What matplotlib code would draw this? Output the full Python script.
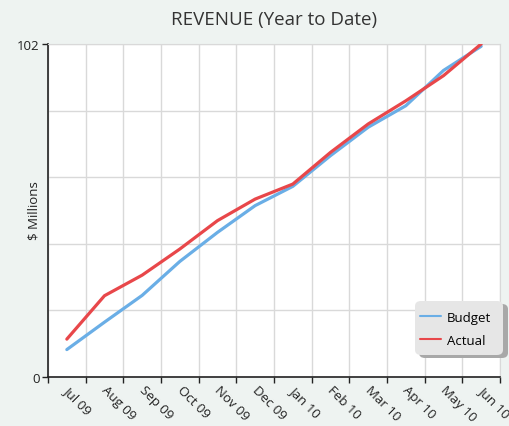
import matplotlib
matplotlib.use("Agg")
import matplotlib.pyplot as plt
from matplotlib.patches import FancyBboxPatch
import numpy as np

months = ["Jul 09", "Aug 09", "Sep 09", "Oct 09", "Nov 09", "Dec 09",
          "Jan 10", "Feb 10", "Mar 10", "Apr 10", "May 10", "Jun 10"]
budget = [8.4, 16.8, 25.0, 35.4, 44.3, 52.5, 58.4, 67.8, 76.5, 83.1, 93.9, 101.3]
actual = [11.6, 24.9, 31.2, 39.2, 47.9, 54.5, 59.1, 68.8, 77.5, 84.6, 92.3, 102.0]
y_max = 102

plt.rcParams['font.family'] = ['Open Sans', 'DejaVu Sans']

W, H = 509, 427
fig = plt.figure(figsize=(W / 100, H / 100), dpi=100)
bg = '#eef3f1'
fig.patch.set_facecolor(bg)
ax = fig.add_axes([48 / W, 1 - 378 / H, (500 - 48) / W, (378 - 45) / H])
ax.set_facecolor('white')

x = np.arange(len(months))
ax.plot(x, budget, color='#6aaee6', lw=2.3, label='Budget', solid_capstyle='round', zorder=3)
ax.plot(x, actual, color='#e8474a', lw=2.3, label='Actual', solid_capstyle='round', zorder=4)

ax.set_xlim(-0.5, len(months) - 0.5)
ax.set_ylim(0, y_max)

# x: labels at category centers, ticks/grid at boundaries
ax.set_xticks(x + 0.1)
ax.set_xticklabels(months, rotation=-45, ha='left', va='top', rotation_mode='anchor',
                   fontsize=9.5, color='#222222')
ax.tick_params(axis='x', which='major', length=0, pad=4)
ax.set_xticks(np.arange(-0.5, len(months), 1.0), minor=True)
ax.tick_params(axis='x', which='minor', length=4, width=1, color='#222222', direction='out')
ax.grid(True, axis='x', which='minor', color='#d9d9d9', lw=1)

# y
ax.set_yticks([0, y_max])
ax.set_yticklabels(['0', str(y_max)], fontsize=9.5, color='#222222')
ax.set_yticks(np.linspace(0, y_max, 6), minor=True)
ax.tick_params(axis='y', which='major', length=4, width=1, color='#222222', pad=2)
ax.tick_params(axis='y', which='minor', length=0)
ax.grid(True, axis='y', which='minor', color='#d9d9d9', lw=1)
ax.grid(True, axis='y', which='major', color='#d9d9d9', lw=1)
ax.set_axisbelow(True)

for s in ['top', 'right']:
    ax.spines[s].set_color('#d9d9d9')
for s in ['left', 'bottom']:
    ax.spines[s].set_color('#222222')
    ax.spines[s].set_linewidth(1.2)

fig.text(34 / W, 1 - 211 / H, '$ Millions', rotation=90, ha='center', va='center',
         fontsize=9.5, color='#222222')
fig.text(274 / W, 1 - 20 / H, 'REVENUE (Year to Date)', ha='center', va='center',
         fontsize=13.5, color='#333333')

# legend box with shadow (figure pixel coordinates)
def fbox(x0, y0, x1, y1, color, z):
    p = FancyBboxPatch((x0 / W, 1 - y1 / H), (x1 - x0) / W, (y1 - y0) / H,
                       boxstyle='round,pad=0,rounding_size=0.012',
                       transform=fig.transFigure, facecolor=color, edgecolor='none',
                       zorder=z)
    fig.add_artist(p)

fbox(419, 305, 508, 359, '#a8a8a8', 5)
fbox(415, 302, 503, 356, '#e6e6e6', 6)

handles, labels = ax.get_legend_handles_labels()
leg = fig.legend(handles, labels, loc='center left', bbox_to_anchor=(420 / W, 1 - 330 / H),
                 bbox_transform=fig.transFigure, fontsize=9.5, frameon=False,
                 handlelength=1.6, handletextpad=0.45,
                 borderpad=0.0, labelspacing=0.75, borderaxespad=0)
leg.set_zorder(7)
for l in leg.get_lines():
    l.set_linewidth(1.5)

fig.savefig('out.png', dpi=100, facecolor=bg)
